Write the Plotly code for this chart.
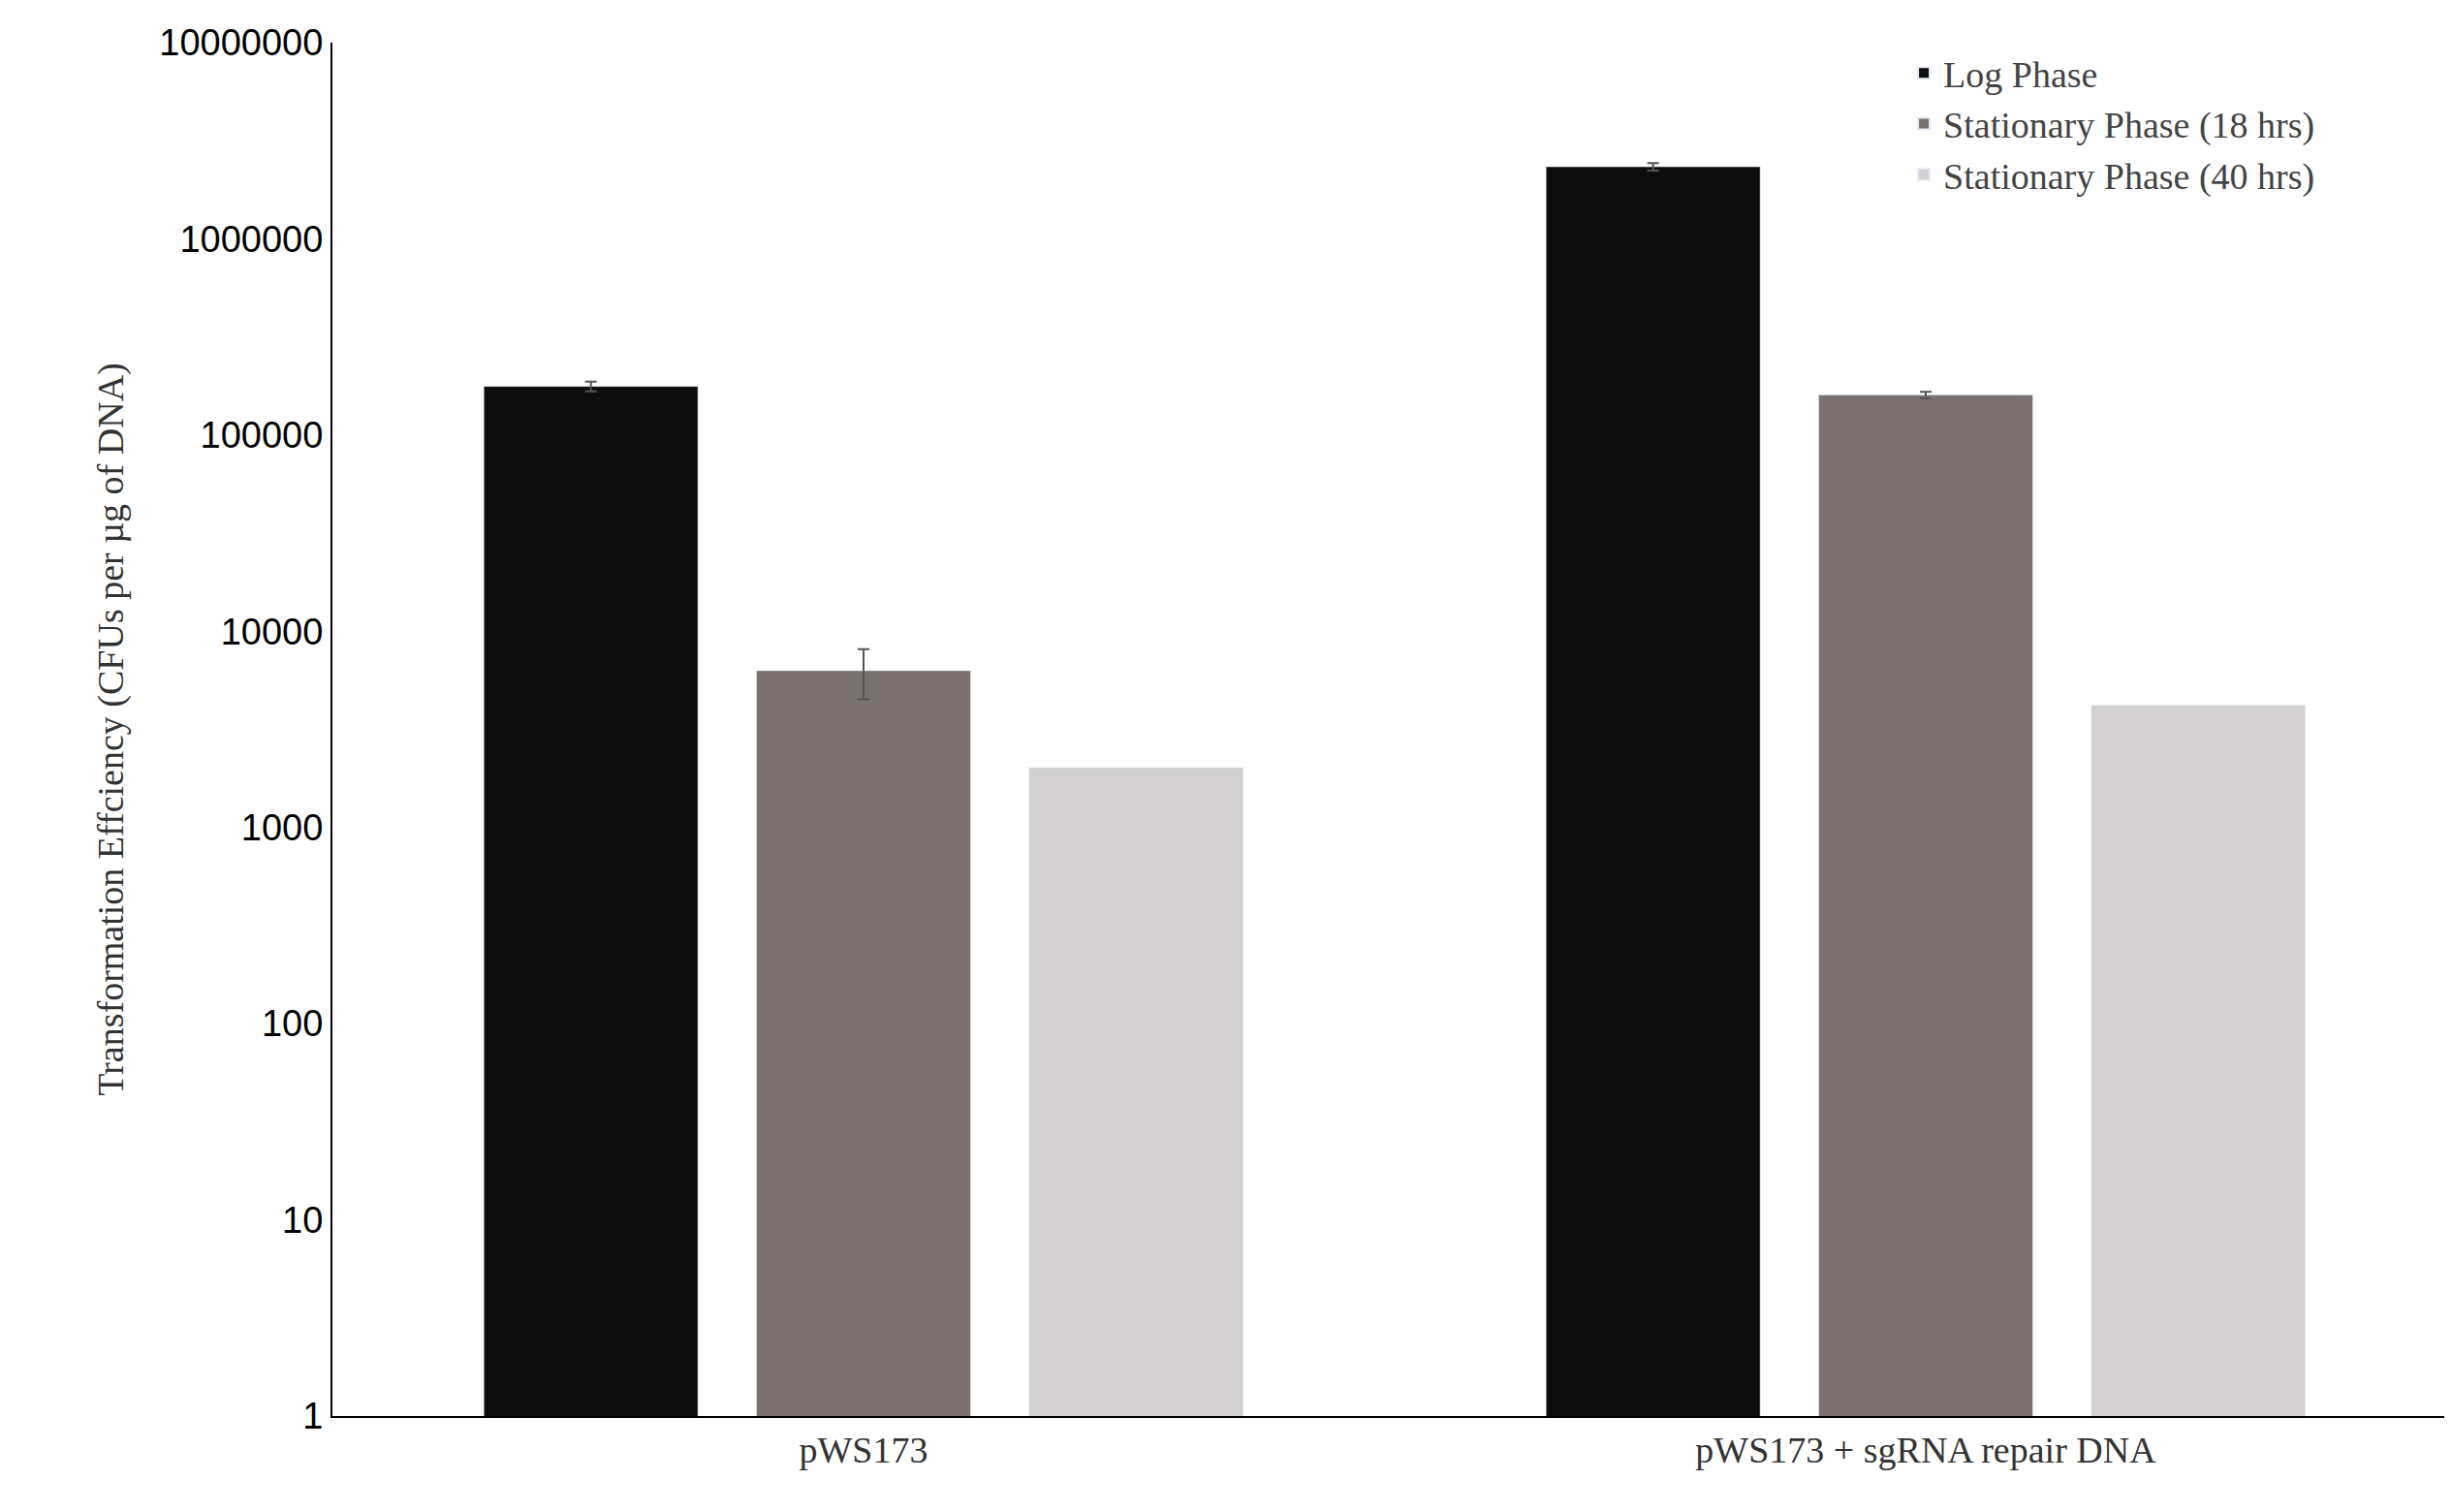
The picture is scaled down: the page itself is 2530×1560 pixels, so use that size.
import plotly.graph_objects as go

categories = ["pWS173", "pWS173 + sgRNA repair DNA"]
series_names = ["Log Phase", "Stationary Phase (18 hrs)", "Stationary Phase (40 hrs)"]
log_phase = [177000, 2330000]
log_err = [10000, 100000]
stat18 = [6300, 160000]
stat18_err = [1800, 6000]
stat40 = [2015, 4200]
colors = ["#0d0d0d", "#7a7070", "#d2d0d0"]
tick_vals = [1, 10, 100, 1000, 10000, 100000, 1000000, 10000000]
tick_text = [str(v) for v in tick_vals]

fig = go.Figure()
vals = [log_phase, stat18, stat40]
errs = [log_err, stat18_err, None]
for name, v, e, c in zip(series_names, vals, errs, colors):
    fig.add_trace(go.Bar(
        x=categories, y=v, name=name, marker_color=c,
        error_y=dict(type="data", array=e, color="#555555", thickness=2, width=6, visible=e is not None),
    ))

fig.update_layout(
    width=2530, height=1560, plot_bgcolor="white", paper_bgcolor="white",
    margin=dict(l=335, r=3, t=36, b=107),
    barmode="group", bargap=0.23, bargroupgap=0.215,
    legend=dict(x=0.74, y=1.0, xanchor="left", yanchor="top",
                font=dict(family="Liberation Serif", size=38, color="#444444"),
                itemsizing="constant", tracegroupgap=30, bgcolor="rgba(0,0,0,0)"),
    showlegend=True,
)
fig.update_yaxes(type="log", range=[0, 7], tickvals=tick_vals, ticktext=tick_text,
                 showgrid=False, showline=True, linecolor="black", linewidth=2,
                 tickfont=dict(family="Liberation Sans", size=38, color="black"),
                 title=dict(text="Transformation Effciency (CFUs per µg of DNA)",
                            font=dict(family="Liberation Serif", size=38, color="#333333"), standoff=25))
fig.update_xaxes(showgrid=False, showline=True, linecolor="black", linewidth=2,
                 tickfont=dict(family="Liberation Serif", size=38, color="#333333"))
fig.write_html("out.html")
